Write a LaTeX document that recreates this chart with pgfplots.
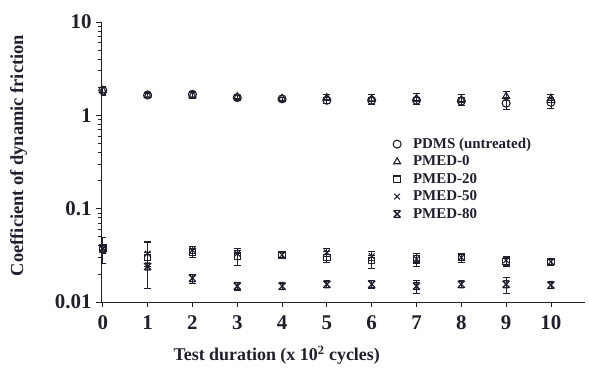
\documentclass[border=0pt]{standalone}
\usepackage{pgfplots}
\pgfplotsset{compat=1.18}
\usepackage{fontspec}
\setmainfont{Liberation Serif}
\definecolor{ink}{rgb}{0.12,0.12,0.18}
\pgfdeclareplotmark{hourglass}{%
  \pgfpathmoveto{\pgfqpoint{-\pgfplotmarksize}{-\pgfplotmarksize}}%
  \pgfpathlineto{\pgfqpoint{\pgfplotmarksize}{\pgfplotmarksize}}%
  \pgfpathmoveto{\pgfqpoint{-\pgfplotmarksize}{\pgfplotmarksize}}%
  \pgfpathlineto{\pgfqpoint{\pgfplotmarksize}{-\pgfplotmarksize}}%
  \pgfpathmoveto{\pgfqpoint{-0.7\pgfplotmarksize}{\pgfplotmarksize}}%
  \pgfpathlineto{\pgfqpoint{0.7\pgfplotmarksize}{\pgfplotmarksize}}%
  \pgfpathmoveto{\pgfqpoint{-0.7\pgfplotmarksize}{-\pgfplotmarksize}}%
  \pgfpathlineto{\pgfqpoint{0.7\pgfplotmarksize}{-\pgfplotmarksize}}%
  \pgfusepathqstroke}
\pgfplotstableread{
x y ep em
0 1.85 0.20 0.20
1 1.65 0.10 0.10
2 1.68 0.15 0.15
3 1.55 0.10 0.10
4 1.50 0.08 0.08
5 1.45 0.10 0.10
6 1.45 0.12 0.12
7 1.45 0.12 0.12
8 1.42 0.15 0.15
9 1.35 0.20 0.20
10 1.38 0.20 0.20
}\pdms
\pgfplotstableread{
x y ep em
0 1.85 0.15 0.15
1 1.65 0.08 0.08
2 1.65 0.10 0.10
3 1.58 0.08 0.08
4 1.52 0.06 0.06
5 1.55 0.15 0.10
6 1.50 0.20 0.10
7 1.52 0.20 0.10
8 1.48 0.20 0.10
9 1.60 0.20 0.15
10 1.52 0.15 0.15
}\pmedzero
\pgfplotstableread{
x y ep em
0 0.038 0.004 0.004
1 0.030 0.004 0.004
2 0.034 0.004 0.004
3 0.031 0.005 0.006
4 0.032 0.002 0.002
5 0.030 0.005 0.003
6 0.028 0.004 0.005
7 0.029 0.004 0.005
8 0.030 0.003 0.003
9 0.027 0.003 0.003
10 0.027 0.002 0.002
}\pmedtwenty
\pgfplotstableread{
x y ep em
0 0.038 0.012 0.012
1 0.033 0.012 0.009
2 0.036 0.004 0.003
3 0.033 0.005 0.004
4 0.032 0.002 0.002
5 0.034 0.004 0.003
6 0.031 0.004 0.003
7 0.029 0.003 0.003
8 0.030 0.003 0.003
9 0.028 0.003 0.003
10 0.027 0.002 0.002
}\pmedfifty
\pgfplotstableread{
x y ep em
0 0.037 0.004 0.004
1 0.024 0.020 0.010
2 0.018 0.002 0.002
3 0.0148 0.0015 0.0015
4 0.0148 0.0012 0.0012
5 0.0155 0.0012 0.0012
6 0.0155 0.0015 0.0015
7 0.0148 0.0025 0.0025
8 0.0155 0.0012 0.0012
9 0.0155 0.0030 0.0030
10 0.0152 0.0012 0.0012
}\pmedeighty
\begin{document}
\begin{tikzpicture}
\begin{axis}[
  name=ax,
  scale only axis,
  width=484bp, height=280bp,
  ymode=log,
  xmin=-0.04, xmax=10.76,
  ymin=0.01, ymax=10,
  axis x line=bottom, axis y line=left,
  axis line style={-, ink, line width=0.9pt},
  xtick={0,1,...,10},
  ytick={0.01,0.1,1,10},
  yticklabels={0.01,0.1,1,10},
  x tick style={ink, line width=0.8pt},
  y tick style={ink, line width=0.8pt},
  tick align=outside,
  major tick length=5bp, minor tick length=3bp,
  tick label style={font=\fontsize{21}{21}\selectfont\bfseries, text=ink},
  xticklabel style={yshift=-5bp},
  yticklabel style={xshift=-1bp},
  /pgf/number format/assume math mode=true,
  xlabel={Test duration (x 10\textsuperscript{2} cycles)},
  ylabel={Coefficient of dynamic friction},
  xlabel style={font=\fontsize{18}{18}\selectfont\bfseries, text=ink, at={(axis description cs:0.363,-0.19)}, anchor=center},
  ylabel style={font=\fontsize{18.5}{18.5}\selectfont\bfseries, text=ink, at={(axis description cs:-0.17,0.523)}, anchor=center, rotate=0},
  legend style={draw=none, fill=none, at={(axis description cs:0.597,0.60)}, anchor=north west,
    font=\fontsize{15}{15}\selectfont\bfseries, text=ink, row sep=2pt,
    /tikz/every odd column/.append style={column sep=10pt}},
  legend cell align=left,
  every axis plot/.append style={only marks, ink, line width=0.8pt, mark size=4pt,
    error bars/y dir=both, error bars/y explicit,
    error bars/error bar style={line width=0.8pt, ink},
    error bars/error mark options={rotate=90, mark size=3.5pt, ink}},
]
\addplot+[mark=o, mark options={ink, line width=1.1pt}] table[x=x,y=y,y error plus=ep,y error minus=em]{\pdms};
\addlegendentry{PDMS (untreated)}
\addplot+[mark=triangle, mark options={ink, line width=1.1pt}] table[x=x,y=y,y error plus=ep,y error minus=em]{\pmedzero};
\addlegendentry{PMED-0}
\addplot+[mark=square, mark size=3.2pt, mark options={ink, line width=1.1pt}] table[x=x,y=y,y error plus=ep,y error minus=em]{\pmedtwenty};
\addlegendentry{PMED-20}
\addplot+[mark=x, mark options={ink, line width=1.1pt}] table[x=x,y=y,y error plus=ep,y error minus=em]{\pmedfifty};
\addlegendentry{PMED-50}
\addplot+[mark=hourglass, mark size=3.5pt, mark options={ink, line width=1.3pt}] table[x=x,y=y,y error plus=ep,y error minus=em]{\pmedeighty};
\addlegendentry{PMED-80}
\end{axis}
\pgfresetboundingbox
\path[use as bounding box] (ax.south west) ++(-101bp,-66bp) rectangle ([xshift=4bp,yshift=22bp]ax.north east);
\end{tikzpicture}
\end{document}
